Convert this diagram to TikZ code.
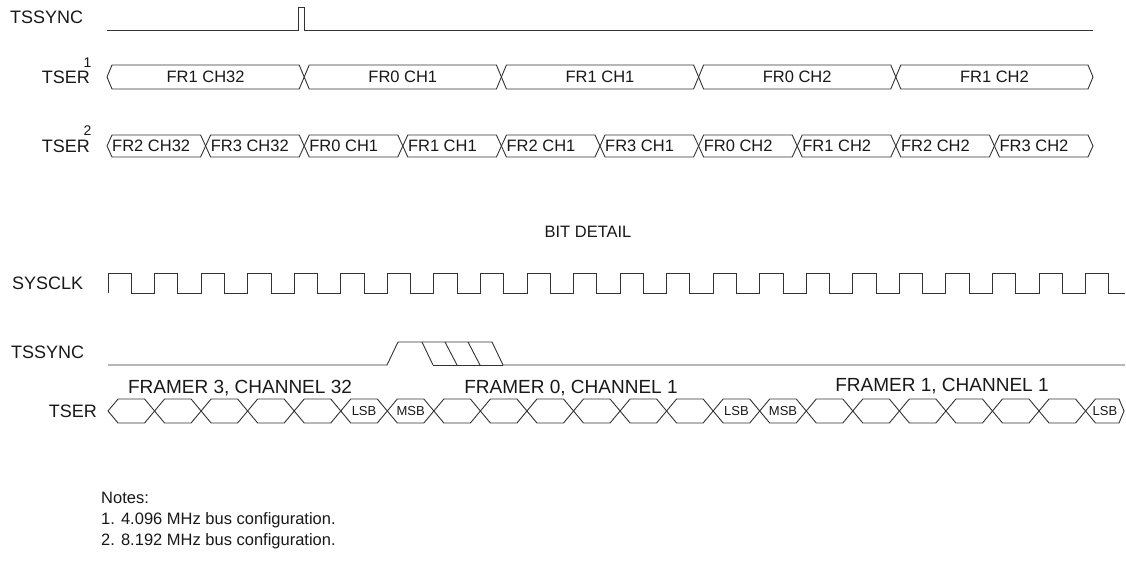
\documentclass[tikz,border=0pt]{standalone}
\usepackage{fontspec}
\setmainfont{Liberation Sans}
\newcommand\fSig{\fontsize{18}{21}\selectfont}
\newcommand\fBus{\fontsize{16.5}{19}\selectfont}
\newcommand\fSup{\fontsize{14}{16}\selectfont}
\newcommand\fFrm{\fontsize{19}{22}\selectfont}
\newcommand\fBit{\fontsize{13}{15}\selectfont}
\newcommand\fNote{\fontsize{16.5}{20}\selectfont}
\newcommand\fHead{\fontsize{16.5}{20}\selectfont}
\begin{document}
\begin{tikzpicture}[x=1pt,y=-1pt,
  wave/.style={line width=0.9pt, draw=black!80, line join=miter},
  sig/.style={inner sep=0pt, font=\fSig, text=black!90},
  head/.style={inner sep=0pt, font=\fHead, text=black!90},
  bus/.style={inner sep=0pt, font=\fBus, text=black!90},
  supn/.style={inner sep=0pt, font=\fSup, text=black!90},
  frm/.style={inner sep=0pt, font=\fFrm, text=black!90},
  bit/.style={inner sep=0pt, font=\fBit, text=black!90},
  note/.style={inner sep=0pt, font=\fNote, text=black!90, anchor=base west}]
\useasboundingbox (0,0) rectangle (1126,561);
\fill[white] (0,0) rectangle (1126,561);

% ---------- labels ----------
\node[sig, anchor=west] (lTS1) at (10,17.5) {TSSYNC};
\node[sig, anchor=east] (lTR1) at (90,77.5) {TSER};
\node[supn] (s1) at (87.5,62.5) {1};
\node[sig, anchor=east] (lTR2) at (90,146.5) {TSER};
\node[supn] (s2) at (87.5,131) {2};
\node[head] (bd) at (588,232) {BIT DETAIL};
\node[sig, anchor=west] (lCK) at (12,283) {SYSCLK};
\node[sig, anchor=west] (lTS2) at (11,352) {TSSYNC};
\node[sig, anchor=east] (lTR3) at (97,411) {TSER};

% ---------- top TSSYNC ----------
\draw[wave] (107,30) -- (298,30) -- (298,7) -- (304,7) -- (304,30) -- (1093,30);

% ---------- TSER 1 ----------
\foreach \i in {0,...,4} {
  \pgfmathsetmacro\a{107+197.2*\i}
  \pgfmathsetmacro\b{107+197.2*(\i+1)}
  \draw[wave] (\a,77) -- (\a+5,65) -- (\b-5,65) -- (\b,77) -- (\b-5,89) -- (\a+5,89) -- cycle;
}
\foreach \t [count=\i from 0] in {FR1 CH32,FR0 CH1,FR1 CH1,FR0 CH2,FR1 CH2} {
  \node[bus] (ta\i) at ({107+197.2*\i+98.6},76.5) {\t};
}

% ---------- TSER 2 ----------
\foreach \i in {0,...,9} {
  \pgfmathsetmacro\a{107+98.6*\i}
  \pgfmathsetmacro\b{107+98.6*(\i+1)}
  \draw[wave] (\a,146) -- (\a+5,135) -- (\b-5,135) -- (\b,146) -- (\b-5,157) -- (\a+5,157) -- cycle;
}
\foreach \t [count=\i from 0] in {FR2 CH32,FR3 CH32,FR0 CH1,FR1 CH1,FR2 CH1,FR3 CH1,FR0 CH2,FR1 CH2,FR2 CH2,FR3 CH2} {
  \node[bus, anchor=west] (tb\i) at ({107+98.6*\i+5},145.5) {\t};
}

% ---------- SYSCLK ----------
\draw[wave] (108,293) \foreach \k in {0,...,21} {
  -- ({108+46.55*\k},293) -- ({108+46.55*\k},273) -- ({108+46.55*\k+23.3},273) -- ({108+46.55*\k+23.3},293)
} -- (1125,293);

% ---------- TSSYNC detail ----------
\draw[wave] (108,365) -- (387,365) -- (398,342) -- (492,342) -- (503,365) -- (1125,365);
\draw[wave] (433,365) -- (503,365);
\draw[wave] (422,342) -- (433,365);
\draw[wave] (445,342) -- (457,365);
\draw[wave] (468,342) -- (480,365);

% ---------- TSER detail ----------
\foreach \k in {0,...,20} {
  \pgfmathsetmacro\a{108+46.55*\k}
  \pgfmathsetmacro\b{108+46.55*(\k+1)}
  \draw[wave] (\a,411) -- (\a+10,399) -- (\b-10,399) -- (\b,411) -- (\b-10,423) -- (\a+10,423) -- cycle;
}
\draw[wave] (1085.55,411) -- (1095.5,399) -- (1119,399) -- (1124,411) -- (1119,423) -- (1095.5,423) -- cycle;

\foreach \k/\t in {5/LSB,6/MSB,13/LSB,14/MSB} {
  \node[bit] (b\k) at ({108+46.55*\k+23.3},411.5) {\t};
}
\node[bit] (b21) at (1105,411.5) {LSB};

\node[frm] (f3) at (240,388.5) {FRAMER 3, CHANNEL 32};
\node[frm] (f0) at (571,388.5) {FRAMER 0, CHANNEL 1};
\node[frm] (f1) at (942,386.5) {FRAMER 1, CHANNEL 1};

% ---------- notes ----------
\node[note] (n0) at (101,503) {Notes:};
\node[note] (n1) at (101,524) {1. 4.096 MHz bus configuration.};
\node[note] (n2) at (101,545) {2. 8.192 MHz bus configuration.};
\end{tikzpicture}
\end{document}
